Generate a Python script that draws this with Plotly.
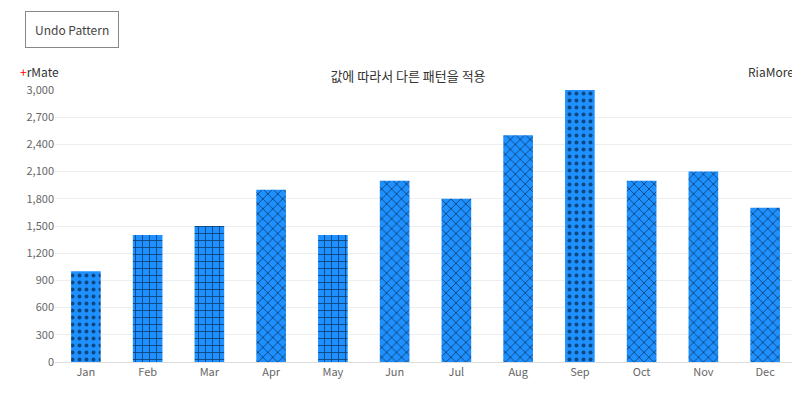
import plotly.graph_objects as go

months = ['Jan','Feb','Mar','Apr','May','Jun','Jul','Aug','Sep','Oct','Nov','Dec']
values = [1000,1400,1500,1900,1400,2000,1800,2500,3000,2000,2100,1700]

def pick_shape(v):
    # circles for extremes, grid for mid-low, diamonds otherwise
    if v <= 1000 or v >= 3000:
        return '.'
    if v <= 1500:
        return '+'
    return 'x'

shapes = [pick_shape(v) for v in values]

fig = go.Figure(go.Bar(
    x=months, y=values, width=0.48,
    marker=dict(color='#1e90ff', line=dict(width=0),
                pattern=dict(shape=shapes, fillmode='overlay', fgcolor='#000000',
                             size=7, solidity=0.25)),
))

fig.update_layout(
    width=800, height=400, template='none',
    plot_bgcolor='white', paper_bgcolor='white',
    margin=dict(l=47, r=12, t=82, b=46),
    showlegend=False,
    font=dict(family='Noto Sans CJK KR', size=11, color='#666'),
    title=dict(text='값에 따라서 다른 패턴을 적용', x=0.5, y=0.84, xanchor='center',
               font=dict(size=13, color='#333')),
    xaxis=dict(showgrid=False, showline=True, linecolor='#ddd', ticks='', tickfont=dict(size=11, color='#666')),
    yaxis=dict(range=[0, 3000], dtick=300, tickformat=',', gridcolor='#eee', zeroline=False,
               showline=False, tickfont=dict(size=11, color='#666')),
    annotations=[
        dict(text='<span style="color:red">+</span>rMate', xref='paper', yref='paper', x=-0.05, y=1.0,
             yshift=8, xanchor='left', yanchor='bottom', showarrow=False, font=dict(size=12, color='#333')),
        dict(text='RiaMore<span style="color:red">+</span>', xref='paper', yref='paper', x=1.01, y=1.0,
             yshift=8, xanchor='right', yanchor='bottom', showarrow=False, font=dict(size=12, color='#333')),
        dict(text='Undo Pattern', xref='paper', yref='paper', x=-0.04, y=1.2,
             yshift=6, xanchor='left', yanchor='middle', showarrow=False, bordercolor='#888', borderwidth=1,
             borderpad=9, font=dict(size=12, color='#444')),
    ],
)

fig.write_html('out.html')
